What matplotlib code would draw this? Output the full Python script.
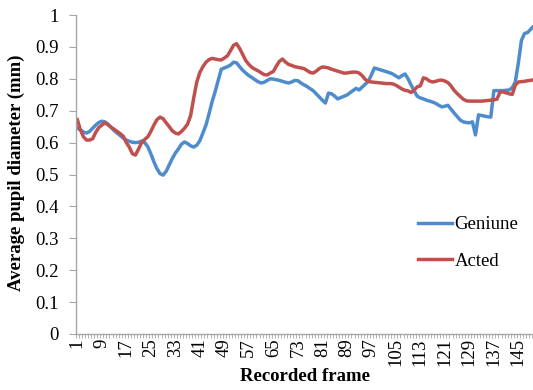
import matplotlib
matplotlib.use("Agg")
import matplotlib.pyplot as plt
import numpy as np

frames = list(range(1, 151))

geniune = [
    0.645, 0.640, 0.633, 0.630, 0.635, 0.645, 0.655, 0.663, 0.667, 0.665,
    0.658, 0.648, 0.638, 0.630, 0.622, 0.614, 0.608, 0.604, 0.601, 0.600,
    0.601, 0.605, 0.600, 0.587, 0.565, 0.540, 0.518, 0.503, 0.498, 0.510,
    0.530, 0.550, 0.567, 0.580, 0.595, 0.602, 0.597, 0.590, 0.586, 0.592,
    0.606, 0.630, 0.655, 0.690, 0.728, 0.760, 0.795, 0.830, 0.834, 0.838,
    0.843, 0.852, 0.850, 0.838, 0.827, 0.818, 0.810, 0.804, 0.797, 0.791,
    0.787, 0.789, 0.795, 0.800, 0.799, 0.797, 0.795, 0.792, 0.789, 0.787,
    0.790, 0.795, 0.794, 0.787, 0.781, 0.776, 0.769, 0.763, 0.753, 0.743,
    0.733, 0.724, 0.755, 0.753, 0.746, 0.737, 0.741, 0.745, 0.749, 0.756,
    0.763, 0.770, 0.765, 0.774, 0.783, 0.792, 0.812, 0.834, 0.831, 0.828,
    0.825, 0.822, 0.819, 0.815, 0.809, 0.803, 0.810, 0.815, 0.800, 0.780,
    0.762, 0.745, 0.740, 0.737, 0.733, 0.730, 0.727, 0.723, 0.717, 0.712,
    0.714, 0.717, 0.705, 0.693, 0.682, 0.671, 0.665, 0.663, 0.662, 0.665,
    0.624, 0.687, 0.685, 0.683, 0.681, 0.680, 0.763, 0.763, 0.763, 0.763,
    0.764, 0.765, 0.772, 0.790, 0.850, 0.920, 0.942, 0.945, 0.955, 0.965,
]

acted = [
    0.672, 0.640, 0.618, 0.608, 0.608, 0.612, 0.632, 0.647, 0.655, 0.662,
    0.656, 0.648, 0.642, 0.635, 0.628, 0.620, 0.600, 0.585, 0.565, 0.561,
    0.580, 0.600, 0.610, 0.618, 0.635, 0.655, 0.672, 0.680, 0.675, 0.662,
    0.650, 0.637, 0.630, 0.627, 0.635, 0.645, 0.658, 0.685, 0.740, 0.790,
    0.820, 0.838, 0.852, 0.860, 0.864, 0.862, 0.860, 0.859, 0.865, 0.872,
    0.888, 0.905, 0.910, 0.895, 0.876, 0.857, 0.845, 0.836, 0.830, 0.825,
    0.819, 0.813, 0.812, 0.818, 0.823, 0.840, 0.855, 0.862, 0.852, 0.845,
    0.842, 0.838, 0.836, 0.834, 0.832, 0.826, 0.820, 0.818, 0.824, 0.832,
    0.837, 0.836, 0.834, 0.830, 0.827, 0.824, 0.821, 0.818, 0.818, 0.820,
    0.821, 0.821, 0.818, 0.810, 0.798, 0.792, 0.790, 0.789, 0.788, 0.787,
    0.786, 0.785, 0.785, 0.784, 0.780, 0.774, 0.768, 0.764, 0.762, 0.757,
    0.765, 0.775, 0.778, 0.803, 0.800, 0.793, 0.790, 0.792, 0.795, 0.796,
    0.793, 0.788, 0.778, 0.764, 0.754, 0.745, 0.736, 0.731, 0.730, 0.730,
    0.730, 0.730, 0.730, 0.731, 0.732, 0.733, 0.734, 0.736, 0.758, 0.759,
    0.756, 0.753, 0.751, 0.780, 0.790, 0.791, 0.792, 0.794, 0.795, 0.797,
]

tick_frames = list(range(1, 150, 8))
y_ticks = [0, 0.1, 0.2, 0.3, 0.4, 0.5, 0.6, 0.7, 0.8, 0.9, 1]
y_tick_labels = ["0", "0.1", "0.2", "0.3", "0.4", "0.5", "0.6", "0.7", "0.8", "0.9", "1"]

plt.rcParams["font.family"] = ["Liberation Serif", "DejaVu Serif"]

W, H = 533, 390
fig = plt.figure(figsize=(W / 100, H / 100), dpi=100)
left_px, bottom_px, top_px = 75.8, 334, 15
ax = fig.add_axes([left_px / W, (H - bottom_px) / H,
                   (535.2 - left_px) / W, (bottom_px - top_px) / H])

blue = "#4F8CCB"
red = "#C0504D"
ax.plot(frames, geniune, color=blue, lw=2.5, label="Geniune", solid_joinstyle="round")
ax.plot(frames, acted, color=red, lw=2.5, label="Acted", solid_joinstyle="round")

ax.set_xlim(0.5, 150.5)
ax.set_ylim(0, 1)

spine_col = "#A6A6A6"
for s in ("top", "right"):
    ax.spines[s].set_visible(False)
for s in ("left", "bottom"):
    ax.spines[s].set_color(spine_col)
    ax.spines[s].set_linewidth(1.0)

fs = 13.5
ax.set_yticks(y_ticks)
ax.set_yticklabels(y_tick_labels)
ax.tick_params(axis="y", direction="out", length=5, color=spine_col,
               labelsize=fs, pad=7.5)

ax.set_xticks(tick_frames)
ax.set_xticklabels([str(f) for f in tick_frames], rotation=90)
ax.tick_params(axis="x", which="major", length=0, labelsize=fs, pad=3)
ax.set_xticks(np.arange(0.5, 151, 1), minor=True)
ax.tick_params(axis="x", which="minor", direction="out", length=3,
               color=spine_col, width=0.6)

ax.set_xlabel("Recorded frame", fontsize=fs, fontweight="bold", labelpad=1)
ax.set_ylabel("Average pupil diameter (mm)", fontsize=fs, fontweight="bold")
ax.yaxis.set_label_coords(-0.111, 0.505)

ax.legend(loc="upper left", bbox_to_anchor=(418 / W, 1 - 216 / H),
          bbox_transform=fig.transFigure, frameon=False, fontsize=fs,
          handlelength=1.8, handletextpad=0.15, labelspacing=1.03,
          borderaxespad=0, borderpad=0)

fig.savefig("out.png", dpi=100)
